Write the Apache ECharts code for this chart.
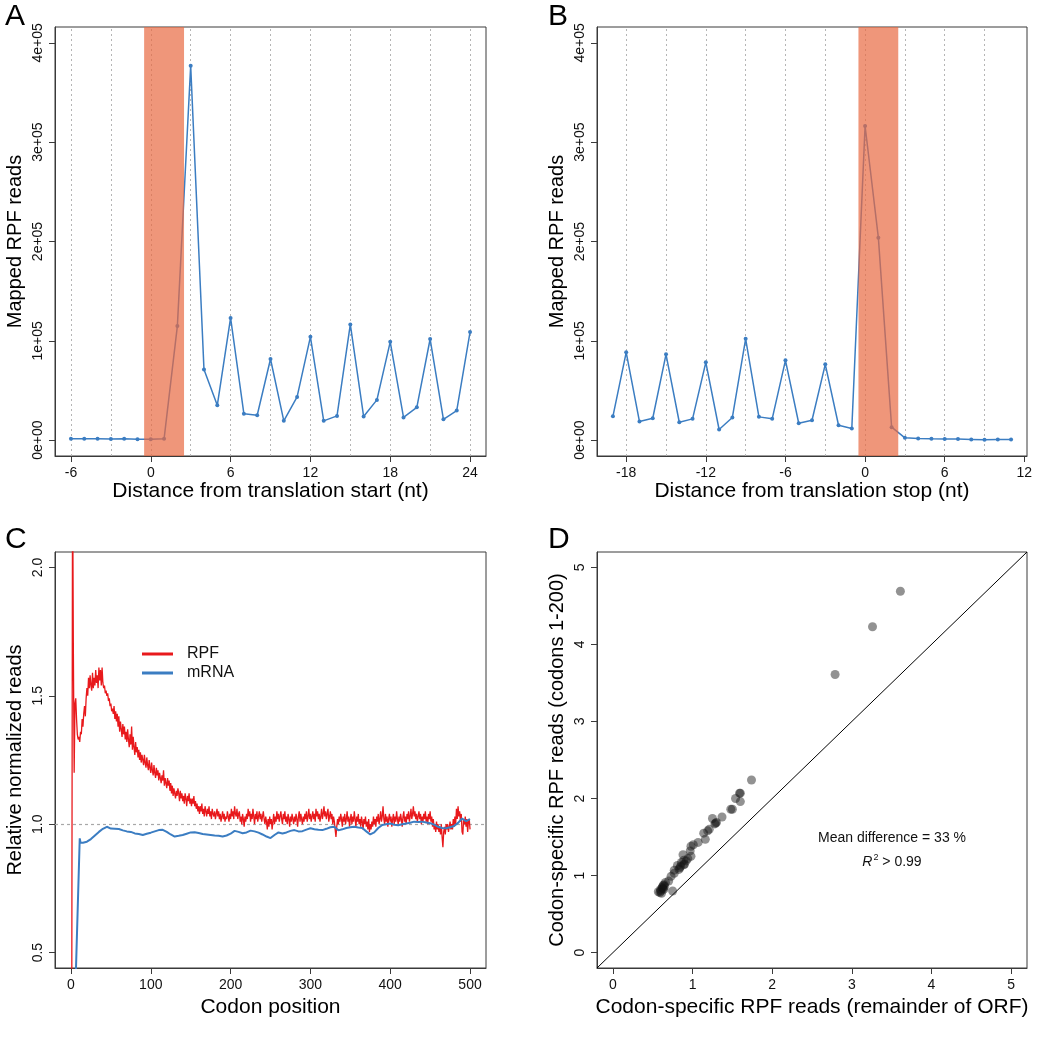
<!DOCTYPE html>
<html><head><meta charset="utf-8">
<script src="https://cdn.jsdelivr.net/npm/echarts@6/dist/echarts.min.js"></script>
<style>html,body{margin:0;padding:0;background:#fff}#c{width:1037px;height:1050px}</style>
</head><body><div id="c"></div>
<script>
// ---------- Panel A: distance from translation start ----------
const startPos = [-6,-5,-4,-3,-2,-1,0,1,2,3,4,5,6,7,8,9,10,11,12,13,14,15,16,17,18,19,20,21,22,23,24];
const startReads = [1300,1400,1400,1100,1300,900,900,1300,115000,377000,71000,35000,123000,26500,25000,81700,19400,43500,104000,19400,24400,116500,23800,40500,99000,22800,33000,101800,21000,29800,108800];
const startTicks = [-6,0,6,12,18,24];
const startGuides = [-6,-3,0,3,6,9,12,15,18,21,24];
// ---------- Panel B: distance from translation stop ----------
const stopPos = [-19,-18,-17,-16,-15,-14,-13,-12,-11,-10,-9,-8,-7,-6,-5,-4,-3,-2,-1,0,1,2,3,4,5,6,7,8,9,10,11];
const stopReads = [24000,88400,18700,22000,86400,18000,21400,78300,10700,22800,102000,23400,21400,80300,17000,20000,76300,15000,11700,316300,203900,13000,2300,1700,1300,1000,1000,700,300,600,600];
const stopTicks = [-18,-12,-6,0,6,12];
const stopGuides = [-18,-15,-12,-9,-6,-3,0,3,6,9];
const bandRange = [-0.5, 2.5];
const readTicks = [0,100000,200000,300000,400000];
const readTickText = ['0e+00','1e+05','2e+05','3e+05','4e+05'];
// ---------- Panel C: relative normalized reads by codon ----------
const rpfFirstCodon = 1;
const rpfValues = [
0.30,2.40,1.68,1.20,1.47,1.49,1.41,1.35,1.33,1.34,
1.32,1.36,1.35,1.41,1.38,1.43,1.46,1.42,1.49,1.53,
1.50,1.57,1.53,1.58,1.54,1.52,1.59,1.53,1.57,1.54,
1.60,1.55,1.58,1.53,1.61,1.56,1.60,1.54,1.61,1.55,
1.53,1.54,1.51,1.52,1.50,1.51,1.48,1.49,1.46,1.47,
1.44,1.45,1.43,1.46,1.41,1.44,1.40,1.43,1.38,1.42,
1.36,1.40,1.37,1.34,1.39,1.35,1.38,1.33,1.36,1.32,
1.37,1.33,1.30,1.35,1.31,1.38,1.29,1.34,1.30,1.27,
1.32,1.28,1.30,1.26,1.29,1.25,1.28,1.24,1.27,1.25,
1.23,1.27,1.24,1.22,1.26,1.23,1.21,1.25,1.22,1.20,
1.24,1.21,1.19,1.23,1.20,1.18,1.22,1.19,1.21,1.17,
1.20,1.18,1.16,1.19,1.17,1.21,1.15,1.18,1.16,1.14,
1.18,1.15,1.17,1.13,1.16,1.12,1.15,1.11,1.14,1.12,
1.10,1.13,1.11,1.14,1.12,1.09,1.13,1.10,1.12,1.09,
1.11,1.08,1.12,1.10,1.07,1.11,1.09,1.12,1.08,1.10,
1.07,1.10,1.08,1.11,1.07,1.09,1.06,1.08,1.05,1.07,
1.04,1.07,1.05,1.08,1.04,1.06,1.03,1.07,1.05,1.03,
1.06,1.04,1.07,1.03,1.05,1.02,1.06,1.04,1.03,1.05,
1.02,1.04,1.06,1.03,1.05,1.02,1.04,1.01,1.03,1.05,
1.02,1.04,1.01,1.03,1.02,1.05,1.03,1.01,1.04,1.02,
1.06,1.03,1.05,1.02,1.07,1.04,1.03,1.06,1.02,1.04,
1.05,1.01,1.03,1.00,1.04,1.02,0.99,1.03,1.01,1.04,
1.02,1.06,1.03,1.05,1.01,1.04,1.02,1.06,1.03,1.00,
1.04,1.02,1.05,1.01,1.03,1.05,1.02,1.04,1.01,1.03,
1.05,1.02,1.00,1.03,1.01,0.98,1.02,0.99,1.03,1.00,
1.02,0.98,1.01,1.04,1.00,1.03,1.01,1.05,1.02,1.04,
1.01,1.03,1.05,1.02,1.00,1.04,1.02,1.05,1.01,1.03,
1.00,1.04,1.02,0.99,1.03,1.01,1.04,1.02,1.00,1.03,
1.01,1.04,1.02,0.99,1.03,1.05,1.01,1.04,1.02,1.00,
1.03,1.01,1.04,1.02,1.05,1.01,1.03,1.06,1.02,1.04,
1.01,1.03,1.05,1.02,1.04,1.01,1.06,1.03,1.05,1.02,
1.04,1.01,1.03,1.06,1.02,1.04,1.07,1.03,1.05,1.02,
1.04,1.06,1.01,1.03,1.05,1.02,1.04,1.00,1.03,1.01,
0.98,0.95,0.99,1.02,1.00,1.03,1.01,1.04,1.02,0.99,
1.03,1.01,1.04,1.00,1.02,1.05,1.01,1.03,0.99,1.02,
1.04,1.00,1.03,1.01,1.05,1.02,0.99,1.03,1.01,1.04,
1.00,1.02,0.99,1.03,1.01,0.98,1.02,1.00,1.03,0.99,
1.01,0.98,1.02,0.97,1.00,0.98,1.01,0.99,1.03,1.00,
1.02,0.99,1.03,1.01,1.04,1.00,1.02,1.05,1.01,1.03,
1.07,1.02,1.00,1.04,1.01,1.03,0.99,1.02,1.04,1.01,
1.03,0.99,1.02,1.04,1.00,1.03,1.01,1.05,1.02,1.00,
1.03,1.01,1.04,1.02,0.99,1.03,1.05,1.01,1.03,1.00,
1.04,1.02,1.05,1.01,1.03,1.06,1.02,1.04,1.07,1.03,
1.05,1.02,1.04,1.01,1.03,1.05,1.02,1.04,1.00,1.03,
1.01,1.04,1.02,1.05,1.01,1.03,1.00,1.04,1.02,1.05,
1.01,1.03,0.99,1.02,0.98,1.00,0.97,1.01,0.98,1.00,
0.97,0.99,0.96,1.00,0.95,0.91,0.97,0.99,0.96,1.00,
0.98,1.00,0.97,0.99,1.01,0.98,1.00,0.98,1.02,0.99,
1.03,1.00,1.06,1.02,1.07,1.03,1.05,1.01,1.04,0.97,
0.96,1.02,1.00,1.03,0.99,1.02,0.97,1.01,1.02,0.98];
const mrnaCodons = [5,11,12,15,20,25,30,35,40,45,50,55,60,65,70,75,80,85,90,95,100,105,110,115,120,125,130,135,140,145,150,155,160,165,170,175,180,185,190,195,200,205,210,215,220,225,230,235,240,245,250,255,260,265,270,275,280,285,290,295,300,305,310,315,320,325,330,335,340,345,350,355,360,365,370,375,380,385,390,395,400,405,410,415,420,425,430,435,440,445,450,455,460,465,470,475,480,485,490,495,500];
const mrnaValues = [0.30,0.945,0.928,0.928,0.932,0.942,0.956,0.970,0.982,0.990,0.983,0.982,0.981,0.976,0.972,0.970,0.964,0.962,0.958,0.963,0.967,0.972,0.977,0.978,0.970,0.960,0.952,0.955,0.958,0.963,0.968,0.969,0.966,0.962,0.960,0.958,0.956,0.955,0.952,0.956,0.963,0.974,0.970,0.965,0.968,0.975,0.972,0.967,0.960,0.952,0.946,0.958,0.968,0.964,0.968,0.974,0.977,0.972,0.973,0.979,0.984,0.980,0.978,0.977,0.982,0.988,0.990,0.976,0.980,0.985,0.988,0.990,0.987,0.985,0.972,0.960,0.968,0.985,0.997,1.000,1.003,0.998,0.996,1.000,1.003,1.006,1.010,1.009,1.010,1.007,1.004,0.998,0.990,0.985,0.984,0.988,0.993,1.005,1.022,1.012,1.020];
const codonTicks = [0,100,200,300,400,500];
const relTicks = [0.5,1.0,1.5,2.0];
// ---------- Panel D: codon-specific RPF reads ----------
const orfReads = [3.61,3.26,2.79,1.74,1.59,1.54,1.60,1.48,1.37,1.25,1.30,1.28,1.21,1.19,1.14,1.16,1.07,1.01,0.98,0.97,0.88,0.98,0.94,0.89,0.86,0.81,0.85,0.89,0.83,0.77,0.73,0.70,0.66,0.64,0.62,0.60,0.57,0.61,0.75,0.64,0.63,0.90,0.77,0.62,0.63,0.60,0.65,0.92,0.84,1.29,1.50,1.60,0.59];
const firstReads = [4.69,4.23,3.61,2.24,2.07,2.00,1.96,1.86,1.76,1.74,1.69,1.67,1.60,1.58,1.55,1.47,1.43,1.40,1.38,1.32,1.27,1.25,1.22,1.20,1.17,1.13,1.12,1.14,1.08,1.03,0.99,0.93,0.91,0.88,0.84,0.82,0.79,0.77,0.80,0.82,0.87,1.15,1.07,0.85,0.83,0.80,0.86,1.19,1.10,1.68,1.86,2.07,0.78];
const identityEnds = [-0.2, 5.2];
const unitTicks = [0,1,2,3,4,5];

const FONT = 'Liberation Sans, Arial, sans-serif';
const NARROW = 'Liberation Sans Narrow, Liberation Sans, Arial, sans-serif';
const frame = '#3a3a3a';
const blue = '#3B7DC2';

function xAx(grid, min, max, ticks, name, gap) {
  return {
    type: 'value', gridIndex: grid, min: min, max: max,
    axisLine: {show: true, onZero: false, lineStyle: {color: frame, width: 1}},
    axisTick: {show: true, length: 6, customValues: ticks, lineStyle: {color: frame}},
    axisLabel: {customValues: ticks, fontSize: 14, color: '#111', margin: 10, fontFamily: FONT},
    splitLine: {show: false},
    name: name, nameLocation: 'middle', nameGap: gap,
    nameTextStyle: {fontSize: 21, color: '#000', fontFamily: FONT}
  };
}
function yAx(grid, min, max, ticks, name, fmt) {
  return {
    type: 'value', gridIndex: grid, min: min, max: max,
    axisLine: {show: true, onZero: false, lineStyle: {color: frame, width: 1}},
    axisTick: {show: true, length: 6, customValues: ticks, lineStyle: {color: frame}},
    axisLabel: {customValues: ticks, rotate: 90, fontSize: 14, color: '#111', margin: 10, fontFamily: NARROW, formatter: fmt},
    splitLine: {show: false},
    name: name, nameLocation: 'middle', nameGap: 30,
    nameTextStyle: {fontSize: 20, color: '#000', fontFamily: FONT}
  };
}
const readFmt = v => { const i = readTicks.indexOf(v); return i >= 0 ? readTickText[i] : ''; };
const relFmt = v => v.toFixed(1);

function guideLines(vals) {
  return {
    silent: true, z: 1, symbol: ['none', 'none'], label: {show: false},
    lineStyle: {type: [2, 3], color: '#b5b5b5', width: 1},
    emphasis: {disabled: true},
    data: vals.map(v => ({xAxis: v}))
  };
}
function band() {
  return {
    silent: true, z: 3,
    itemStyle: {color: 'rgba(232,105,65,0.7)'},
    label: {show: false},
    data: [[{xAxis: bandRange[0]}, {xAxis: bandRange[1]}]]
  };
}
const gridBase = {show: true, borderColor: frame, borderWidth: 1, backgroundColor: 'transparent'};

const option = {
  animation: false,
  textStyle: {fontFamily: FONT},
  grid: [
    Object.assign({left: 55, top: 27, width: 431, height: 429}, gridBase),
    Object.assign({left: 597, top: 27, width: 430, height: 429}, gridBase),
    Object.assign({left: 55, top: 552, width: 431, height: 416}, gridBase),
    Object.assign({left: 597, top: 552, width: 430, height: 416}, gridBase)
  ],
  xAxis: [
    xAx(0, -7.2, 25.2, startTicks, 'Distance from translation start (nt)', 25),
    xAx(1, -20.2, 12.2, stopTicks, 'Distance from translation stop (nt)', 25),
    xAx(2, -20, 520, codonTicks, 'Codon position', 29),
    xAx(3, -0.2, 5.2, unitTicks, 'Codon-specific RPF reads (remainder of ORF)', 29)
  ],
  yAxis: [
    yAx(0, -16000, 416000, readTicks, 'Mapped RPF reads', readFmt),
    yAx(1, -16000, 416000, readTicks, 'Mapped RPF reads', readFmt),
    yAx(2, 0.44, 2.06, relTicks, 'Relative normalized reads', relFmt),
    yAx(3, -0.2, 5.2, unitTicks, 'Codon-specific RPF reads (codons 1-200)')
  ],
  legend: {
    data: ['RPF', 'mRNA'], orient: 'vertical', left: 137, top: 641,
    icon: 'rect', itemWidth: 31, itemHeight: 3, itemGap: 3,
    textStyle: {fontSize: 16, color: '#111', padding: [0, 0, 0, 9], fontFamily: FONT},
    selectedMode: false
  },
  series: [
    {
      type: 'line', xAxisIndex: 0, yAxisIndex: 0, z: 2,
      data: startPos.map((x, i) => [x, startReads[i]]),
      symbol: 'circle', symbolSize: 4, showAllSymbol: true,
      lineStyle: {color: blue, width: 1.5}, itemStyle: {color: blue},
      markLine: guideLines(startGuides), markArea: band()
    },
    {
      type: 'line', xAxisIndex: 1, yAxisIndex: 1, z: 2,
      data: stopPos.map((x, i) => [x, stopReads[i]]),
      symbol: 'circle', symbolSize: 4, showAllSymbol: true,
      lineStyle: {color: blue, width: 1.5}, itemStyle: {color: blue},
      markLine: guideLines(stopGuides), markArea: band()
    },
    {
      name: 'RPF', type: 'line', xAxisIndex: 2, yAxisIndex: 2, z: 2,
      data: rpfValues.map((v, i) => [rpfFirstCodon + i, v]),
      symbol: 'none', lineStyle: {color: '#E8191C', width: 1.3}, itemStyle: {color: '#E8191C'}
    },
    {
      name: 'mRNA', type: 'line', xAxisIndex: 2, yAxisIndex: 2, z: 2,
      data: mrnaCodons.map((c, i) => [c, mrnaValues[i]]),
      symbol: 'none', lineStyle: {color: blue, width: 2}, itemStyle: {color: blue},
      markLine: {
        silent: true, z: 1, symbol: ['none', 'none'], label: {show: false},
        lineStyle: {type: [3, 3], color: '#a8a8a8', width: 1.2},
        data: [{yAxis: 1.0}]
      }
    },
    {
      type: 'line', xAxisIndex: 3, yAxisIndex: 3, z: 2,
      data: identityEnds.map(v => [v, v]),
      symbol: 'none', lineStyle: {color: '#000', width: 1}
    },
    {
      type: 'scatter', xAxisIndex: 3, yAxisIndex: 3, z: 3,
      data: orfReads.map((x, i) => [x, firstReads[i]]),
      symbolSize: 9, itemStyle: {color: 'rgba(20,20,20,0.58)'}
    }
  ],
  graphic: [
    {type: 'text', left: 5, top: 2, style: {text: 'A', fontSize: 30, fill: '#000', fontFamily: FONT}},
    {type: 'text', left: 548, top: 2, style: {text: 'B', fontSize: 30, fill: '#000', fontFamily: FONT}},
    {type: 'text', left: 5, top: 525, style: {text: 'C', fontSize: 30, fill: '#000', fontFamily: FONT}},
    {type: 'text', left: 548, top: 525, style: {text: 'D', fontSize: 30, fill: '#000', fontFamily: FONT}},
    {type: 'text', x: 892, y: 838, style: {text: 'Mean difference = 33 %', fontSize: 14, fill: '#111', fontFamily: FONT, align: 'center', verticalAlign: 'middle'}},
    {type: 'text', x: 892, y: 862, style: {
      text: '{i|R}{s|2}{n| > 0.99}', align: 'center', verticalAlign: 'middle', fontFamily: FONT,
      rich: {
        i: {fontSize: 14, fontStyle: 'italic', fill: '#111', fontFamily: FONT},
        s: {fontSize: 9, fill: '#111', fontFamily: FONT, padding: [0, 0, 9, 1]},
        n: {fontSize: 14, fill: '#111', fontFamily: FONT}
      }
    }}
  ]
};
echarts.init(document.getElementById('c'), null, {renderer: 'canvas'}).setOption(option);
</script></body></html>
